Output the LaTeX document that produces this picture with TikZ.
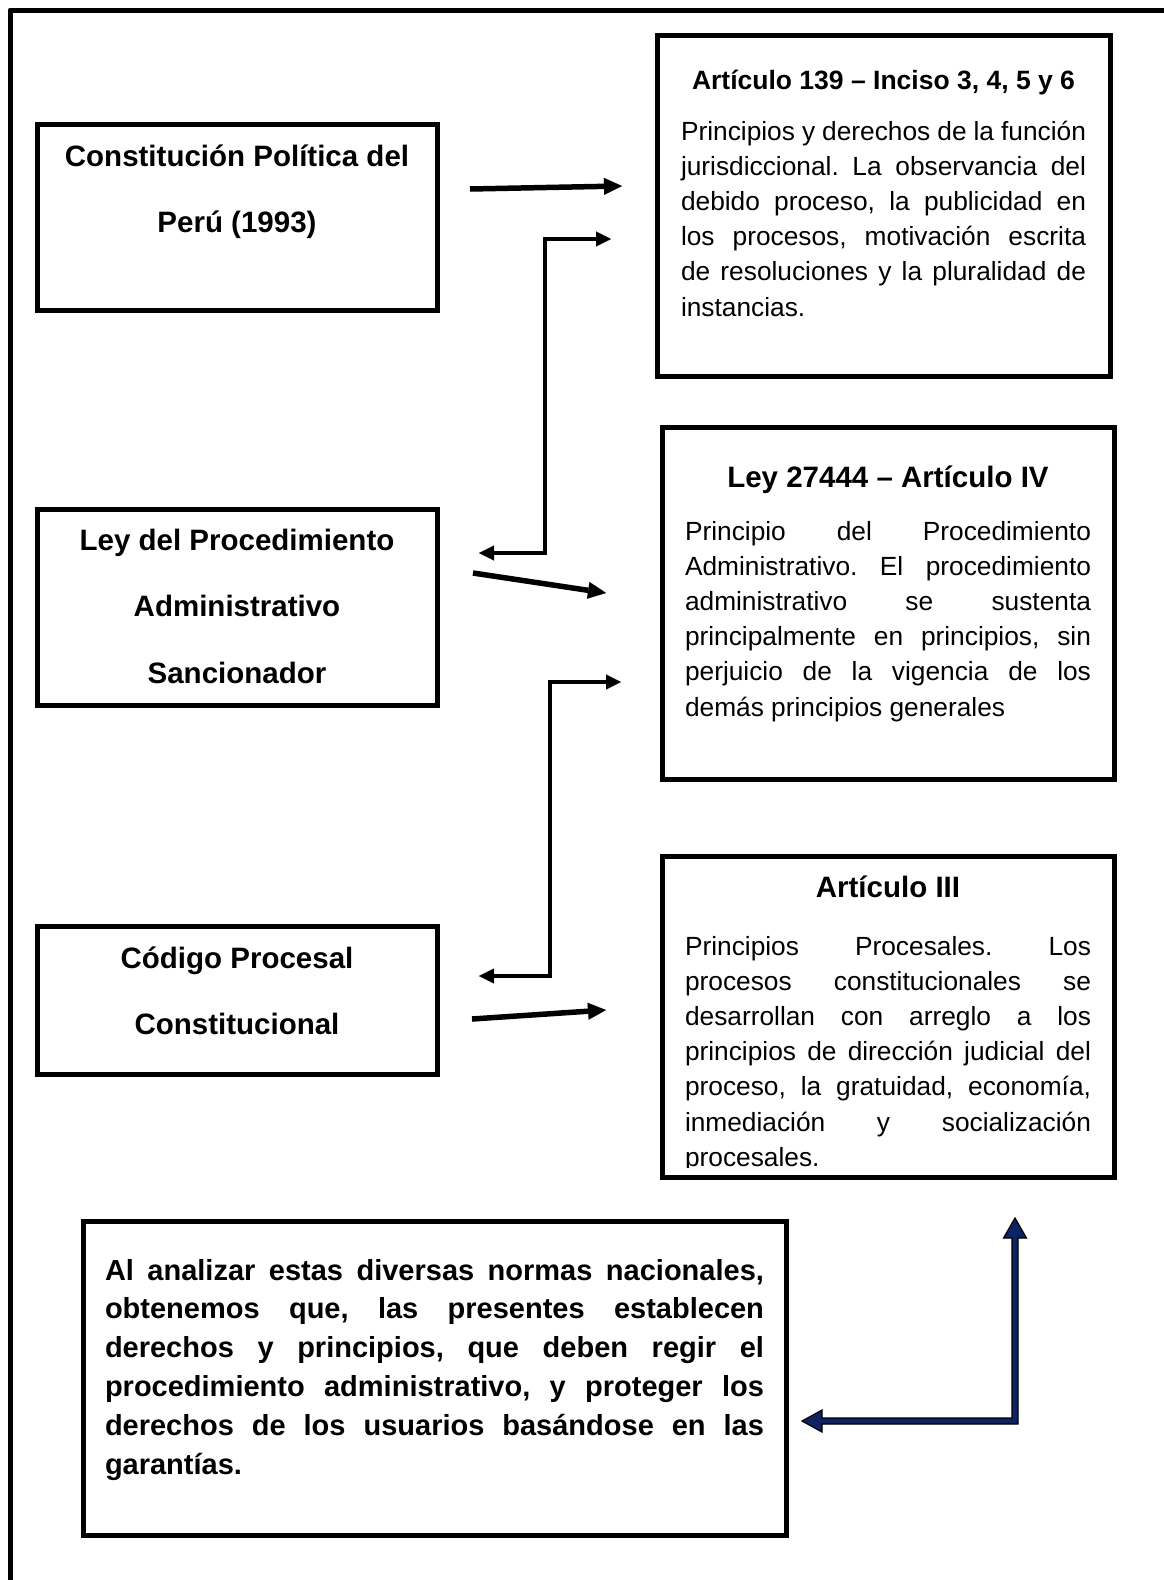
\documentclass[tikz,border=0pt]{standalone}
\usepackage{fontspec}
\setmainfont{Liberation Sans}
\usetikzlibrary{arrows.meta,calc}
\definecolor{navyarrow}{RGB}{14,36,98}
\newcommand\jl[1]{\makebox[\linewidth][s]{#1}}
\newcommand\ttlfont{\fontsize{29.5pt}{66.7pt}\selectfont\bfseries}
\newcommand\bdyfont{\fontsize{26.3pt}{35.2pt}\selectfont}
\frenchspacing
\begin{document}
\frenchspacing
\begin{tikzpicture}[x=1pt,y=-1pt,
  box/.style n args={2}{draw=black,line width=5pt,rectangle,inner sep=0pt,outer sep=0pt,minimum width=#1,minimum height=#2},
  txt/.style={inner sep=0pt,outer sep=0pt},
  thickarrow/.style={line width=5.5pt,-{Triangle[length=18pt,width=17pt,line width=0.1pt]}},
  elbowarrow/.style={line width=3.3pt,line join=miter,{Triangle[length=15pt,width=15pt,line width=0.1pt]}-{Triangle[length=15pt,width=15pt,line width=0.1pt]}}]
\useasboundingbox (0,0) rectangle (1164,1580);
\begin{scope}
\clip (0,0) rectangle (1164,1580);
\draw[line width=5pt,line join=round] (10,1600) -- (10,10) -- (1190,10);
\end{scope}

% left boxes
\node[box={400pt}{186pt}] (b1) at (237,217) {};
\node[box={400pt}{196pt}] (b2) at (237,607) {};
\node[box={400pt}{148pt}] (b3) at (237,1000) {};
% right boxes
\node[box={453pt}{341pt}] (ra) at (883.5,205.5) {};
\node[box={452pt}{352pt}] (rb) at (888,603) {};
\node[box={452pt}{321pt}] (rc) at (888,1016.5) {};
% bottom box
\node[box={703pt}{314pt}] (b4) at (434.5,1378) {};

% left box texts
\node[txt,anchor=base] (t1) at (237,166) {\parbox[t]{390pt}{\centering\ttlfont Constitución Política del\\Perú (1993)}};
\node[txt,anchor=base] (t2) at (237,550) {\parbox[t]{390pt}{\centering\ttlfont Ley del Procedimiento\\Administrativo\\Sancionador}};
\node[txt,anchor=base] (t3) at (237,968) {\parbox[t]{390pt}{\centering\ttlfont Código Procesal\\Constitucional}};

% right box titles
\node[txt,anchor=base] (ta) at (883.5,89) {\fontsize{26.5pt}{32pt}\selectfont\bfseries Artículo 139 – Inciso 3, 4, 5 y 6};
\node[txt,anchor=base] (tb) at (888,487) {\ttlfont Ley 27444 – Artículo IV};
\node[txt,anchor=base] (tc) at (888,897) {\ttlfont Artículo III};

% right box bodies
\node[txt,anchor=base west] (ba) at (681,140) {\parbox[t]{405pt}{\bdyfont\frenchspacing
\jl{Principios y derechos de la función}\\
\jl{jurisdiccional. La observancia del}\\
\jl{debido proceso, la publicidad en}\\
\jl{los procesos, motivación escrita}\\
\jl{de resoluciones y la pluralidad de}\\
instancias.}};
\node[txt,anchor=base west] (bb) at (685,540) {\parbox[t]{406pt}{\bdyfont\frenchspacing
\jl{Principio del Procedimiento}\\
\jl{Administrativo. El procedimiento}\\
\jl{administrativo se sustenta}\\
\jl{principalmente en principios, sin}\\
\jl{perjuicio de la vigencia de los}\\
demás principios generales}};
\begin{scope}
\clip (662,856) rectangle (1114,1167);
\node[txt,anchor=base west] (bc) at (685,955) {\parbox[t]{406pt}{\bdyfont\frenchspacing
\jl{Principios Procesales. Los}\\
\jl{procesos constitucionales se}\\
\jl{desarrollan con arreglo a los}\\
\jl{principios de dirección judicial del}\\
\jl{proceso, la gratuidad, economía,}\\
\jl{inmediación y socialización}\\
procesales.}};
\end{scope}

% bottom box text
\node[txt,anchor=base west] (t4) at (105,1280) {\parbox[t]{659pt}{\fontsize{29pt}{38.8pt}\selectfont\bfseries\frenchspacing
\jl{Al analizar estas diversas normas nacionales,}\\
\jl{obtenemos que, las presentes establecen}\\
\jl{derechos y principios, que deben regir el}\\
\jl{procedimiento administrativo, y proteger los}\\
\jl{derechos de los usuarios basándose en las}\\
garantías.}};

% connector end points
\coordinate (a1s) at (470,189);  \coordinate (a1e) at (622,186);
\coordinate (a2s) at (473,573);  \coordinate (a2e) at (606,593);
\coordinate (a3s) at (472,1019); \coordinate (a3e) at (606,1010);
\coordinate (e1s) at (479,553);  \coordinate (e1c) at (545,553); \coordinate (e1t) at (545,239); \coordinate (e1e) at (611,239);
\coordinate (e2s) at (479,976);  \coordinate (e2c) at (550,976); \coordinate (e2t) at (550,682); \coordinate (e2e) at (621,682);
\coordinate (bl) at (802,1421);  \coordinate (bcn) at (1015,1421); \coordinate (bt) at (1015,1218);

\draw[thickarrow] (a1s) -- (a1e);
\draw[thickarrow] (a2s) -- (a2e);
\draw[thickarrow] (a3s) -- (a3e);
\draw[elbowarrow] (e1s) -- (e1c) -- (e1t) -- (e1e);
\draw[elbowarrow] (e2s) -- (e2c) -- (e2t) -- (e2e);

\filldraw[fill=navyarrow,draw=black,line width=1.2pt,line join=miter]
  (bl) -- ($(bl)+(20,-11)$) -- ($(bl)+(20,-3)$) -- ($(bcn)+(-3,-3)$) -- ($(bt)+(-3,20)$)
  -- ($(bt)+(-11.5,20)$) -- (bt) -- ($(bt)+(11.5,20)$) -- ($(bt)+(3,20)$)
  -- ($(bcn)+(3,3)$) -- ($(bl)+(20,3)$) -- ($(bl)+(20,11)$) -- cycle;
\end{tikzpicture}
\end{document}
